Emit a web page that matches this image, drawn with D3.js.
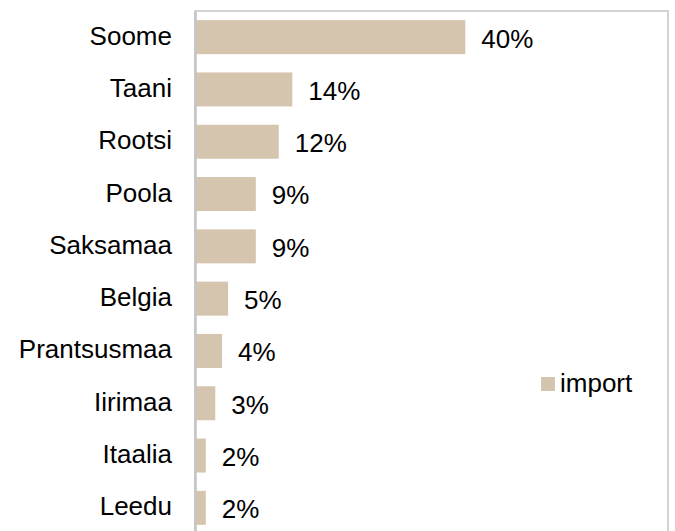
<!DOCTYPE html>
<html>
<head>
<meta charset="utf-8">
<script src="https://cdn.jsdelivr.net/npm/d3@7"></script>
<style>
  html, body { margin: 0; padding: 0; background: #fff; }
  svg { display: block; }
  text { font-family: "Liberation Sans", Arial, sans-serif; fill: #000; }
</style>
</head>
<body>
<svg id="chart" width="675" height="531"></svg>
<script>
const categories = ["Soome", "Taani", "Rootsi", "Poola", "Saksamaa", "Belgia", "Prantsusmaa", "Iirimaa", "Itaalia", "Leedu"];
const importValues = [40.0, 14.4, 12.4, 9.0, 9.0, 4.9, 4.0, 3.0, 1.6, 1.6];
const seriesName = "import";
const xDomain = [0, 70];

const plot = { left: 195, right: 668, top: 11, bottom: 534 };
const fontSize = 26;
const barColor = "#d6c5ae";
const gridColor = "#c4c4c4";

const svg = d3.select("#chart");

const x = d3.scaleLinear().domain(xDomain).range([plot.left, plot.right]);
const y = d3.scaleBand().domain(categories).range([plot.top, plot.bottom])
  .paddingInner(0.35).paddingOuter(0.175);

const data = categories.map((c, i) => ({ cat: c, v: importValues[i] }));

// plot area border
svg.append("rect")
  .attr("x", plot.left).attr("y", plot.top)
  .attr("width", plot.right - plot.left).attr("height", plot.bottom - plot.top)
  .attr("fill", "none").attr("stroke", gridColor).attr("stroke-width", 1.5);

// bars
svg.append("g").selectAll("rect").data(data).join("rect")
  .attr("x", x(0) + 1)
  .attr("y", d => y(d.cat))
  .attr("width", d => x(d.v) - x(0) - 1)
  .attr("height", y.bandwidth())
  .attr("fill", barColor);

// category axis (left line) with labels
const yAxis = d3.axisLeft(y).tickSize(0).tickPadding(23);
const gy = svg.append("g").attr("transform", `translate(${plot.left},0)`).call(yAxis);
gy.select(".domain").attr("stroke", gridColor).attr("stroke-width", 2.5);
gy.selectAll("text")
  .style("font-family", '"Liberation Sans", Arial, sans-serif')
  .attr("font-size", fontSize).attr("fill", "#000")
  .attr("dy", "0.29em");

// value labels
svg.append("g").selectAll("text").data(data).join("text")
  .attr("x", d => x(d.v) + 16)
  .attr("y", d => y(d.cat) + y.bandwidth() / 2)
  .attr("dy", "0.4em")
  .attr("font-size", fontSize)
  .text(d => Math.round(d.v) + "%");

// legend
const lg = svg.append("g").attr("transform", "translate(541,377)");
lg.append("rect").attr("width", 14).attr("height", 14).attr("fill", barColor);
lg.append("text").attr("x", 19).attr("y", 7).attr("dy", "0.31em")
  .attr("font-size", fontSize).text(seriesName);
</script>
</body>
</html>
